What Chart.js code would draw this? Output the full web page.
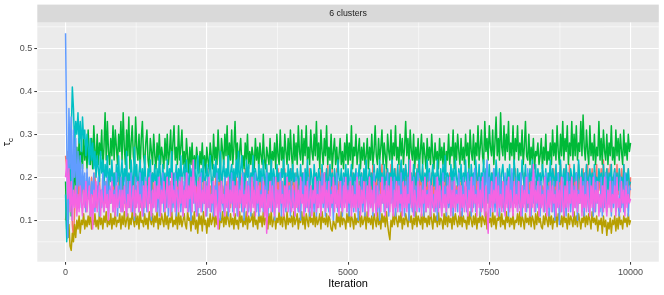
<!DOCTYPE html>
<html><head><meta charset="utf-8">
<script src="https://cdn.jsdelivr.net/npm/chart.js@4.4.1/dist/chart.umd.min.js"></script>
<style>html,body{margin:0;padding:0;background:#fff;}canvas{display:block;}</style>
</head><body>
<canvas id="c" width="664" height="295" style="width:664px;height:295px"></canvas>
<script>
// ---- data (thinned trace, one sample every 20 iterations) ----
const stripLabel = '6 clusters';
const xTitle = 'Iteration';
const seriesNames = ['1', '2', '3', '4', '5', '6'];
const seriesColors = ['#F8766D', '#B79F00', '#00BA38', '#00BFC4', '#619CFF', '#F564E3'];
const xTicks = [0, 2500, 5000, 7500, 10000];
const xMinorTicks = [1250, 3750, 6250, 8750];
const yTicks = [0.1, 0.2, 0.3, 0.4, 0.5];
const yMinorTicks = [0.05, 0.15, 0.25, 0.35, 0.45, 0.55];
const sampleStep = 20;

const redTau = [
.25,.22,.26,.2,.14,.24,.09,.06,.12,.18,.15,.21,.13,.19,.16,.2,.14,.18,.12,.21,.15,.19,.13,.2,.16,.14,.21,.13,.18,.15,.2,.13,.17,.15,.21,.14,.19,.13,.2,.16,.14,.19,.13,.21,.15,.18,.14,.2,.13,.17,
.2,.14,.18,.13,.21,.15,.19,.13,.17,.2,.14,.21,.13,.18,.15,.2,.13,.19,.14,.21,.13,.18,.15,.2,.14,.19,.13,.21,.15,.17,.2,.14,.18,.13,.21,.15,.19,.14,.2,.13,.17,.21,.14,.19,.13,.2,.15,.18,.14,.21,
.13,.19,.15,.21,.14,.18,.13,.2,.16,.14,.21,.13,.19,.15,.22,.14,.18,.13,.2,.15,.17,.13,.21,.14,.19,.15,.22,.13,.18,.14,.2,.15,.13,.21,.14,.19,.16,.22,.14,.18,.13,.21,.15,.19,.14,.2,.13,.18,.15,.21,
.14,.2,.15,.18,.13,.21,.14,.19,.16,.22,.14,.18,.13,.2,.15,.21,.14,.19,.13,.2,.16,.14,.21,.15,.18,.13,.2,.14,.22,.15,.19,.14,.21,.13,.18,.15,.2,.16,.22,.14,.21,.15,.19,.14,.22,.16,.2,.15,.21,.14,
.22,.15,.19,.14,.21,.13,.2,.15,.18,.14,.21,.13,.19,.15,.2,.14,.22,.13,.18,.15,.2,.14,.21,.13,.19,.15,.22,.14,.18,.16,.21,.15,.23,.14,.2,.16,.22,.15,.21,.14,.22,.15,.19,.14,.21,.13,.2,.15,.18,.14,
.2,.14,.18,.13,.21,.15,.19,.14,.2,.13,.19,.15,.21,.14,.2,.16,.22,.15,.19,.14,.21,.16,.23,.15,.2,.14,.22,.16,.21,.15,.23,.14,.2,.16,.22,.15,.21,.14,.23,.16,.2,.15,.22,.14,.21,.16,.23,.15,.2,.14,
.22,.16,.21,.15,.23,.14,.2,.16,.22,.15,.21,.14,.23,.15,.2,.16,.22,.14,.19,.15,.2,.13,.18,.15,.21,.14,.19,.13,.2,.15,.17,.14,.21,.13,.19,.15,.2,.14,.18,.13,.21,.15,.19,.14,.2,.13,.18,.15,.21,.14,
.19,.13,.2,.15,.18,.14,.21,.13,.19,.15,.2,.14,.18,.13,.21,.15,.19,.14,.2,.13,.21,.15,.18,.14,.2,.13,.19,.15,.21,.14,.18,.13,.2,.15,.21,.14,.19,.13,.2,.15,.18,.14,.21,.13,.19,.15,.2,.14,.22,.15,
.19,.14,.2,.13,.18,.15,.21,.14,.19,.13,.2,.15,.18,.14,.21,.13,.19,.15,.2,.14,.21,.13,.18,.15,.2,.14,.19,.13,.21,.15,.18,.14,.22,.15,.2,.16,.21,.14,.23,.15,.19,.16,.22,.15,.21,.14,.23,.16,.2,.15,
.22,.16,.21,.15,.23,.14,.2,.16,.22,.15,.21,.16,.23,.15,.2,.17,.22,.15,.21,.16,.23,.15,.2,.17,.22,.16,.24,.15,.21,.17,.22,.15,.23,.16,.2,.17,.22,.15,.23,.16,.21,.17,.22,.15,.23,.16,.2,.17,.22,.15,
.2];
const oliveTau = [
.1,.13,.06,.09,.04,.03,.07,.05,.09,.06,.1,.08,.11,.07,.1,.09,.115,.08,.1,.085,.11,.09,.12,.08,.1,.09,.115,.085,.1,.08,.12,.09,.105,.08,.11,.095,.12,.085,.1,.09,.115,.08,.105,.09,.12,.085,.1,.095,.115,.08,
.11,.09,.12,.085,.1,.115,.08,.105,.09,.12,.1,.085,.115,.09,.11,.08,.12,.095,.1,.085,.115,.09,.105,.08,.12,.1,.09,.115,.085,.11,.095,.12,.08,.105,.09,.115,.1,.085,.12,.09,.11,.08,.105,.095,.12,.085,.1,.09,.115,.08,
.12,.09,.11,.085,.1,.115,.09,.08,.12,.1,.105,.075,.11,.09,.12,.08,.1,.07,.115,.09,.11,.075,.12,.09,.1,.07,.105,.085,.115,.09,.1,.12,.085,.11,.09,.115,.08,.105,.095,.12,.085,.11,.09,.12,.1,.085,.115,.09,.105,.08,
.115,.09,.1,.08,.12,.095,.11,.085,.105,.09,.12,.08,.11,.095,.1,.115,.085,.12,.09,.1,.08,.115,.095,.11,.085,.12,.09,.105,.1,.08,.115,.09,.12,.085,.1,.11,.08,.105,.095,.12,.09,.11,.085,.115,.1,.08,.12,.09,.105,.095,
.11,.085,.12,.09,.1,.115,.08,.105,.095,.12,.09,.11,.08,.115,.1,.085,.12,.095,.105,.09,.12,.085,.11,.09,.1,.115,.08,.12,.095,.105,.09,.115,.085,.11,.1,.08,.075,.1,.09,.08,.115,.095,.11,.085,.12,.09,.105,.1,.08,.115,
.095,.12,.085,.11,.1,.08,.115,.09,.105,.095,.12,.085,.11,.09,.1,.115,.08,.12,.095,.105,.09,.11,.08,.115,.1,.085,.12,.09,.105,.08,.115,.095,.11,.085,.12,.09,.07,.055,.1,.085,.115,.09,.12,.1,.085,.11,.095,.12,.08,.105,
.09,.115,.1,.085,.12,.095,.11,.08,.105,.09,.12,.085,.11,.1,.09,.115,.08,.12,.095,.105,.085,.11,.09,.12,.1,.08,.115,.095,.11,.085,.12,.09,.105,.1,.08,.115,.09,.12,.085,.11,.095,.105,.08,.12,.09,.115,.1,.085,.11,.09,
.12,.085,.11,.095,.1,.08,.115,.09,.12,.1,.085,.11,.09,.115,.08,.105,.095,.12,.085,.11,.1,.09,.12,.08,.115,.095,.105,.085,.12,.09,.11,.08,.105,.1,.12,.085,.115,.09,.1,.08,.12,.095,.11,.085,.105,.09,.115,.08,.1,.095,
.115,.09,.12,.085,.11,.1,.08,.115,.095,.105,.09,.12,.085,.11,.1,.08,.115,.09,.12,.095,.105,.085,.08,.11,.09,.115,.1,.085,.12,.09,.11,.08,.105,.095,.12,.085,.115,.1,.09,.11,.085,.12,.095,.105,.08,.115,.09,.11,.1,.085,
.12,.09,.11,.085,.115,.1,.08,.105,.095,.12,.085,.11,.09,.115,.1,.08,.12,.095,.105,.09,.11,.075,.1,.09,.105,.07,.11,.085,.1,.065,.095,.08,.105,.07,.1,.09,.11,.075,.105,.08,.115,.09,.1,.08,.11,.095,.105,.085,.115,.09,
.1];
const greenTau = [
.19,.08,.06,.15,.25,.11,.2,.14,.24,.18,.27,.2,.29,.23,.26,.22,.3,.24,.28,.22,.31,.25,.23,.29,.22,.32,.26,.24,.3,.23,.28,.25,.31,.22,.27,.35,.24,.33,.26,.23,.29,.25,.32,.24,.31,.27,.23,.3,.26,.33,
.24,.35,.27,.23,.31,.25,.34,.22,.28,.32,.25,.23,.34,.27,.24,.3,.22,.29,.33,.25,.23,.28,.31,.24,.22,.29,.26,.23,.3,.25,.22,.28,.24,.3,.23,.27,.25,.22,.29,.24,.3,.23,.26,.31,.22,.28,.32,.24,.27,.23,
.32,.24,.27,.31,.23,.26,.22,.29,.25,.21,.27,.23,.28,.21,.25,.22,.27,.24,.21,.26,.23,.28,.22,.25,.21,.27,.24,.22,.28,.25,.22,.3,.24,.27,.23,.31,.25,.22,.29,.26,.23,.3,.25,.32,.22,.28,.24,.31,.23,.27,
.33,.24,.28,.22,.26,.29,.23,.25,.22,.28,.24,.3,.22,.26,.23,.27,.25,.22,.29,.24,.27,.22,.28,.25,.23,.3,.24,.22,.27,.25,.23,.29,.22,.26,.24,.28,.22,.3,.25,.23,.31,.24,.27,.22,.3,.26,.23,.29,.24,.31,
.25,.22,.3,.24,.28,.23,.32,.26,.24,.31,.23,.29,.25,.32,.24,.27,.23,.31,.26,.24,.3,.25,.33,.24,.28,.22,.31,.26,.23,.29,.25,.32,.23,.27,.24,.3,.22,.26,.29,.23,.27,.22,.25,.29,.23,.26,.22,.28,.24,.3,
.23,.28,.24,.32,.22,.27,.25,.3,.23,.26,.29,.22,.27,.24,.28,.23,.25,.29,.22,.27,.24,.3,.23,.26,.32,.25,.23,.29,.24,.27,.31,.23,.28,.25,.22,.3,.26,.24,.31,.23,.28,.25,.32,.24,.27,.23,.3,.25,.29,.23,
.27,.33,.25,.29,.23,.31,.26,.24,.3,.22,.27,.24,.29,.22,.26,.3,.23,.28,.25,.22,.29,.24,.27,.23,.3,.25,.22,.28,.24,.26,.22,.29,.24,.27,.23,.28,.21,.26,.24,.3,.23,.27,.25,.31,.22,.28,.24,.3,.26,.23,
.29,.24,.27,.23,.3,.25,.28,.22,.31,.26,.24,.3,.23,.28,.25,.32,.24,.27,.31,.25,.23,.33,.26,.29,.24,.32,.27,.25,.31,.23,.28,.34,.25,.29,.24,.35,.27,.25,.32,.24,.3,.26,.33,.24,.28,.25,.32,.23,.29,.26,
.32,.24,.28,.25,.31,.23,.27,.33,.25,.24,.3,.23,.27,.24,.29,.22,.26,.25,.28,.23,.25,.29,.22,.27,.24,.3,.23,.26,.24,.28,.23,.31,.25,.28,.24,.32,.26,.23,.3,.25,.33,.24,.29,.26,.32,.23,.28,.25,.33,.24,
.3,.25,.32,.24,.28,.26,.33,.25,.345,.27,.24,.31,.26,.23,.32,.25,.28,.24,.3,.23,.27,.25,.33,.24,.29,.23,.31,.26,.24,.3,.23,.28,.25,.32,.24,.27,.23,.31,.25,.29,.24,.3,.26,.23,.31,.25,.28,.24,.3,.26,
.28];
const cyanTau = [
.16,.05,.1,.2,.14,.3,.41,.36,.27,.33,.3,.35,.28,.33,.26,.34,.29,.31,.25,.3,.27,.23,.29,.24,.28,.22,.26,.2,.25,.22,.19,.26,.21,.24,.18,.23,.2,.25,.17,.22,.19,.24,.18,.21,.16,.23,.19,.25,.17,.21,
.24,.17,.22,.19,.26,.16,.21,.18,.24,.2,.17,.27,.19,.23,.16,.21,.24,.18,.22,.17,.25,.19,.16,.22,.2,.24,.17,.21,.19,.23,.16,.22,.18,.25,.2,.17,.23,.19,.21,.16,.24,.18,.22,.2,.26,.17,.21,.19,.23,.18,
.22,.19,.25,.17,.21,.23,.18,.24,.2,.17,.23,.19,.22,.16,.24,.2,.18,.25,.21,.17,.22,.19,.24,.17,.2,.23,.18,.21,.25,.19,.17,.23,.2,.24,.18,.22,.19,.26,.17,.21,.24,.18,.22,.2,.25,.17,.21,.23,.19,.22,
.18,.24,.2,.26,.17,.22,.25,.19,.21,.17,.24,.2,.23,.16,.21,.19,.25,.18,.22,.2,.17,.23,.19,.22,.16,.24,.2,.18,.23,.17,.21,.19,.24,.17,.22,.2,.16,.23,.19,.21,.17,.22,.2,.24,.18,.21,.16,.23,.19,.22,
.18,.23,.19,.21,.16,.22,.2,.17,.23,.19,.21,.16,.22,.18,.24,.19,.17,.22,.2,.16,.23,.19,.21,.17,.22,.2,.16,.23,.18,.21,.19,.22,.17,.2,.23,.18,.21,.16,.22,.19,.17,.24,.2,.18,.22,.16,.21,.19,.23,.17,
.22,.18,.2,.23,.16,.21,.19,.22,.17,.2,.23,.18,.21,.16,.22,.19,.24,.17,.2,.22,.18,.21,.16,.23,.19,.2,.22,.17,.24,.19,.21,.16,.23,.18,.2,.22,.17,.21,.19,.24,.17,.22,.2,.18,.23,.16,.21,.24,.19,.22,
.18,.23,.2,.17,.24,.19,.21,.16,.23,.2,.18,.22,.17,.24,.2,.19,.23,.16,.21,.18,.24,.19,.22,.17,.2,.23,.18,.21,.16,.24,.2,.18,.22,.17,.23,.19,.25,.18,.21,.2,.16,.23,.19,.22,.17,.24,.2,.18,.22,.19,
.23,.17,.21,.19,.24,.18,.2,.22,.16,.23,.19,.21,.17,.24,.2,.18,.23,.16,.21,.19,.24,.17,.22,.2,.18,.23,.16,.21,.19,.22,.17,.24,.2,.18,.22,.16,.21,.23,.19,.2,.17,.22,.19,.23,.16,.21,.18,.24,.2,.17,
.22,.19,.21,.17,.24,.2,.18,.23,.16,.21,.19,.22,.17,.24,.18,.2,.23,.16,.22,.19,.21,.17,.23,.2,.18,.22,.16,.21,.19,.24,.17,.22,.2,.18,.23,.16,.21,.19,.24,.18,.2,.22,.17,.23,.19,.21,.16,.22,.2,.18,
.23,.19,.21,.17,.24,.2,.18,.22,.16,.21,.19,.23,.17,.2,.22,.18,.21,.16,.23,.19,.2,.17,.22,.19,.21,.16,.23,.18,.2,.22,.17,.21,.19,.23,.16,.2,.22,.18,.21,.17,.22,.19,.2,.16,.23,.18,.21,.19,.22,.18,
.19];
const blueTau = [
.535,.3,.06,.36,.22,.34,.1,.31,.2,.29,.14,.26,.18,.25,.13,.23,.17,.21,.12,.22,.15,.2,.11,.19,.16,.21,.12,.18,.14,.2,.11,.17,.13,.21,.12,.19,.15,.2,.11,.18,.14,.2,.12,.17,.15,.21,.11,.18,.13,.2,
.12,.17,.14,.2,.11,.19,.13,.16,.21,.12,.18,.1,.2,.14,.17,.12,.21,.13,.19,.11,.16,.2,.12,.18,.14,.21,.1,.17,.13,.19,.15,.12,.2,.11,.18,.14,.21,.12,.17,.13,.2,.11,.19,.15,.12,.18,.13,.21,.11,.17,
.14,.2,.12,.18,.11,.19,.15,.13,.21,.12,.17,.1,.19,.14,.2,.12,.16,.11,.18,.13,.21,.12,.17,.14,.19,.11,.2,.13,.16,.12,.19,.11,.18,.15,.21,.12,.17,.1,.19,.14,.12,.2,.13,.18,.11,.17,.14,.21,.12,.19,
.13,.17,.11,.2,.14,.18,.12,.21,.1,.17,.15,.19,.12,.2,.11,.18,.14,.16,.21,.12,.19,.11,.17,.13,.2,.12,.18,.14,.21,.11,.16,.13,.19,.12,.2,.1,.18,.14,.17,.12,.21,.11,.19,.13,.16,.12,.2,.14,.18,.11,
.19,.13,.17,.11,.2,.14,.12,.18,.1,.19,.15,.21,.12,.17,.13,.2,.11,.18,.14,.16,.12,.2,.11,.19,.14,.17,.12,.21,.13,.18,.11,.19,.15,.12,.2,.13,.17,.1,.18,.14,.21,.12,.16,.13,.19,.11,.2,.14,.17,.12,
.18,.11,.2,.13,.16,.12,.19,.14,.21,.1,.17,.13,.2,.12,.18,.11,.19,.15,.12,.2,.13,.17,.11,.21,.14,.18,.12,.19,.1,.16,.14,.2,.12,.18,.13,.21,.11,.17,.14,.19,.12,.2,.11,.16,.13,.19,.12,.21,.14,.17,
.11,.19,.13,.2,.1,.17,.14,.12,.2,.11,.18,.14,.21,.12,.16,.13,.19,.11,.2,.12,.17,.14,.21,.11,.18,.13,.16,.12,.2,.1,.19,.13,.17,.12,.21,.14,.18,.11,.2,.13,.16,.12,.19,.11,.2,.14,.17,.12,.21,.13,
.18,.11,.2,.13,.17,.12,.21,.14,.19,.11,.2,.13,.22,.12,.17,.14,.2,.11,.19,.13,.21,.12,.18,.24,.14,.2,.11,.19,.13,.22,.12,.17,.14,.21,.11,.2,.13,.18,.12,.21,.14,.19,.11,.2,.13,.22,.12,.17,.14,.2,
.12,.19,.13,.21,.11,.18,.14,.2,.12,.22,.13,.17,.11,.2,.14,.21,.12,.18,.13,.2,.11,.19,.14,.17,.12,.21,.13,.18,.11,.2,.14,.12,.19,.1,.17,.13,.21,.09,.18,.12,.2,.14,.17,.11,.21,.13,.19,.12,.2,.11,
.18,.13,.21,.1,.17,.14,.2,.12,.19,.11,.21,.13,.18,.12,.2,.14,.17,.11,.21,.12,.19,.14,.16,.12,.2,.11,.18,.13,.21,.12,.17,.14,.2,.11,.19,.13,.21,.12,.18,.14,.11,.2,.13,.17,.12,.21,.14,.19,.11,.18,
.17];
const magentaTau = [
.2,.24,.15,.22,.12,.19,.1,.17,.13,.18,.11,.16,.12,.18,.14,.11,.17,.13,.19,.12,.15,.18,.11,.16,.08,.17,.13,.19,.12,.15,.18,.11,.17,.14,.12,.18,.13,.16,.1,.17,.14,.19,.12,.16,.11,.18,.13,.15,.17,.12,
.17,.12,.18,.14,.11,.16,.13,.19,.12,.15,.18,.11,.17,.13,.19,.12,.16,.14,.11,.18,.13,.19,.15,.12,.2,.14,.11,.17,.13,.19,.12,.18,.15,.2,.11,.17,.14,.19,.12,.16,.2,.13,.18,.11,.21,.14,.17,.12,.19,.15,
.12,.19,.14,.2,.11,.17,.13,.21,.12,.18,.15,.2,.12,.24,.14,.18,.11,.19,.13,.2,.12,.17,.14,.19,.11,.18,.13,.2,.12,.16,.14,.19,.11,.17,.13,.08,.18,.12,.19,.14,.16,.11,.18,.13,.2,.12,.17,.14,.19,.11,
.18,.13,.19,.11,.17,.14,.2,.12,.16,.13,.19,.11,.18,.14,.12,.2,.13,.17,.11,.19,.14,.18,.12,.16,.13,.19,.11,.17,.07,.16,.13,.19,.12,.18,.14,.11,.2,.13,.17,.12,.19,.14,.16,.11,.18,.13,.2,.12,.17,.14,
.12,.18,.14,.11,.19,.13,.17,.12,.2,.14,.16,.11,.18,.13,.19,.12,.15,.18,.11,.17,.14,.2,.12,.16,.13,.19,.11,.18,.14,.21,.12,.17,.13,.19,.11,.16,.14,.2,.12,.18,.13,.17,.11,.19,.14,.12,.18,.13,.2,.12,
.17,.14,.19,.11,.18,.13,.16,.12,.2,.13,.18,.11,.17,.14,.19,.12,.15,.18,.11,.2,.13,.17,.12,.19,.14,.11,.18,.13,.16,.12,.2,.14,.17,.11,.19,.13,.18,.12,.2,.14,.11,.17,.13,.19,.12,.18,.14,.16,.11,.19,
.13,.18,.12,.16,.14,.24,.13,.19,.11,.17,.14,.12,.19,.13,.18,.11,.17,.14,.2,.12,.16,.13,.19,.11,.18,.14,.12,.17,.13,.2,.12,.18,.14,.11,.19,.13,.16,.12,.18,.14,.2,.11,.17,.13,.19,.12,.16,.14,.18,.11,
.18,.13,.16,.12,.19,.14,.11,.17,.13,.2,.12,.18,.14,.16,.11,.19,.13,.17,.12,.2,.14,.11,.18,.12,.07,.16,.13,.19,.12,.17,.14,.2,.11,.18,.13,.16,.12,.19,.14,.11,.18,.13,.2,.12,.17,.14,.11,.19,.13,.16,
.12,.19,.14,.11,.18,.13,.17,.12,.2,.14,.16,.11,.19,.13,.23,.12,.17,.14,.19,.11,.18,.13,.16,.12,.2,.14,.11,.17,.13,.19,.12,.18,.14,.16,.11,.19,.13,.17,.12,.2,.14,.11,.18,.13,.19,.12,.16,.14,.2,.11,
.17,.13,.19,.12,.16,.14,.2,.11,.18,.13,.16,.12,.19,.14,.11,.18,.13,.2,.12,.17,.14,.19,.11,.16,.13,.18,.12,.2,.14,.11,.17,.13,.19,.12,.16,.14,.18,.11,.2,.13,.15,.12,.19,.14,.17,.11,.18,.13,.16,.14,
.15];
const seriesValues = [redTau, oliveTau, greenTau, cyanTau, blueTau, magentaTau];
const iterations = redTau.map((_, i) => i * sampleStep);

// ---- drawing ----
const FONT = '"Liberation Sans", Arial, Helvetica, sans-serif';

const panelPlugin = {
  id: 'panel',
  beforeDraw(chart) {
    const {ctx, chartArea: a} = chart;
    ctx.save();
    ctx.fillStyle = '#FFFFFF';
    ctx.fillRect(0, 0, chart.width, chart.height);
    ctx.fillStyle = '#EBEBEB';
    ctx.fillRect(a.left, a.top, a.right - a.left, a.bottom - a.top);
    const stripTop = 4.6;
    ctx.fillStyle = '#D9D9D9';
    ctx.fillRect(a.left, stripTop, a.right - a.left, a.top - stripTop);
    ctx.fillStyle = '#1A1A1A';
    ctx.font = '8.8px ' + FONT;
    ctx.textAlign = 'center';
    ctx.textBaseline = 'middle';
    ctx.fillText(stripLabel, (a.left + a.right) / 2, (stripTop + a.top) / 2 + 0.5);
    // y axis title: tau with subscript c
    ctx.translate(10, (a.top + a.bottom) / 2);
    ctx.rotate(-Math.PI / 2);
    ctx.font = '11px ' + FONT;
    const w1 = ctx.measureText('τ').width;
    ctx.font = '8px ' + FONT;
    const w2 = ctx.measureText('c').width;
    const start = -(w1 + w2) / 2;
    ctx.textAlign = 'left';
    ctx.textBaseline = 'alphabetic';
    ctx.fillStyle = '#000000';
    ctx.font = '11px ' + FONT;
    ctx.fillText('τ', start, 0);
    ctx.font = '8px ' + FONT;
    ctx.fillText('c', start + w1, 3);
    ctx.restore();
  },
  beforeDatasetsDraw(chart) {
    const {ctx, chartArea: a, scales} = chart;
    ctx.save();
    ctx.strokeStyle = '#FFFFFF';
    ctx.lineWidth = 0.55;
    ctx.beginPath();
    yMinorTicks.forEach(v => {
      const y = scales.y.getPixelForValue(v);
      if (y >= a.top && y <= a.bottom) { ctx.moveTo(a.left, y); ctx.lineTo(a.right, y); }
    });
    xMinorTicks.forEach(v => {
      const x = scales.x.getPixelForValue(v);
      ctx.moveTo(x, a.top); ctx.lineTo(x, a.bottom);
    });
    ctx.stroke();
    ctx.restore();
  }
};

const datasets = seriesValues.map((vals, i) => ({
  label: seriesNames[i],
  data: vals.map((v, j) => ({x: iterations[j], y: v})),
  borderColor: seriesColors[i],
  backgroundColor: seriesColors[i],
  borderWidth: 1.5,
  borderJoinStyle: 'round',
  borderCapStyle: 'butt',
  pointRadius: 0,
  tension: 0,
  fill: false,
  order: seriesValues.length - i
}));

new Chart(document.getElementById('c'), {
  type: 'line',
  data: {datasets},
  options: {
    responsive: false,
    animation: false,
    devicePixelRatio: 1,
    layout: {padding: {top: 22.5, right: 5.2, left: 0, bottom: 0}},
    plugins: {legend: {display: false}, tooltip: {enabled: false}},
    scales: {
      x: {
        type: 'linear', min: -500, max: 10500,
        afterBuildTicks: s => { s.ticks = xTicks.map(v => ({value: v})); },
        afterFit: s => { s.height = 33.3; },
        ticks: {callback: v => String(v), font: {family: FONT, size: 9}, color: '#4D4D4D',
                padding: 2.5, maxRotation: 0, autoSkip: false},
        grid: {color: '#FFFFFF', lineWidth: 1.1, tickColor: '#333333', tickLength: 3, tickWidth: 1},
        border: {display: false},
        title: {display: true, text: xTitle, color: '#000000', font: {family: FONT, size: 11},
                padding: {top: 0, bottom: 4.4}}
      },
      y: {
        type: 'linear', min: 0.0037, max: 0.56,
        afterBuildTicks: s => { s.ticks = yTicks.map(v => ({value: v})); },
        afterFit: s => { s.width = 37.3; },
        ticks: {callback: v => v.toFixed(1), font: {family: FONT, size: 9}, color: '#4D4D4D',
                padding: 2, autoSkip: false},
        grid: {color: '#FFFFFF', lineWidth: 1.1, tickColor: '#333333', tickLength: 3, tickWidth: 1},
        border: {display: false}
      }
    }
  },
  plugins: [panelPlugin]
});
</script>
</body></html>
